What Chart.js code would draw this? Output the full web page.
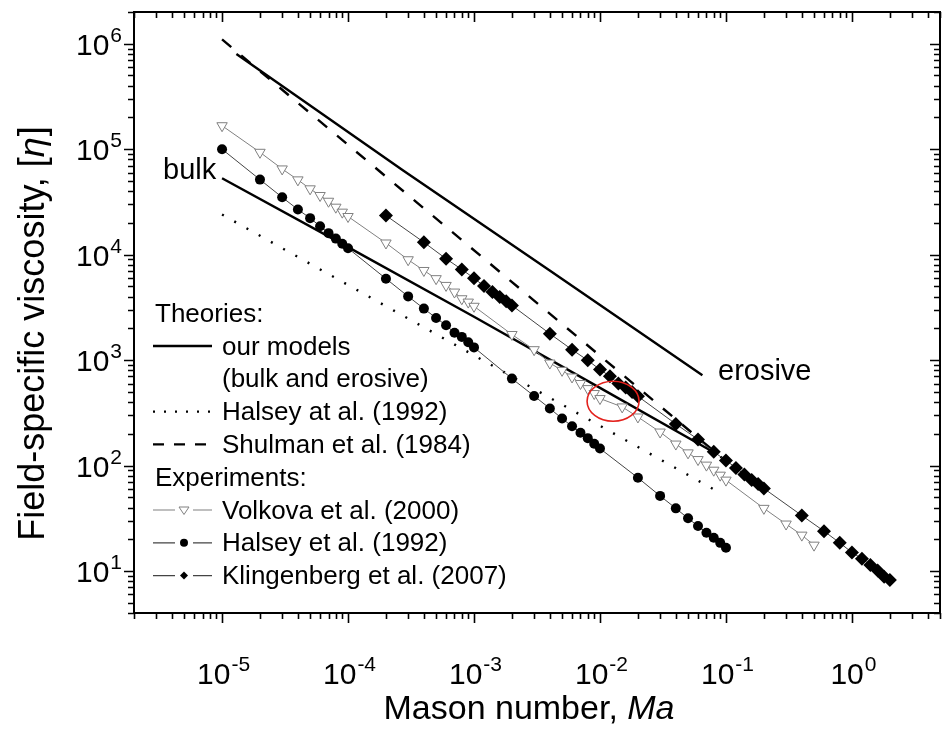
<!DOCTYPE html>
<html>
<head>
<meta charset="utf-8">
<script src="https://cdn.jsdelivr.net/npm/chart.js@4.4.1/dist/chart.umd.min.js"></script>
<style>
  html, body { margin: 0; padding: 0; background: #fff; }
  #wrap { width: 947px; height: 729px; }
</style>
</head>
<body>
<div id="wrap"><canvas id="viscChart" width="947" height="729"></canvas></div>
<script>
// Mason number (x) and field-specific viscosity [eta] (y)

// Volkova et al. (2000)
const volkovaMa = [1e-5, 2e-5, 3e-5, 4e-5, 5e-5, 6e-5, 7e-5, 8e-5, 9e-5,
  1e-4, 2e-4, 3e-4, 4e-4, 5e-4, 6e-4, 7e-4, 8e-4, 9e-4,
  1e-3, 2e-3, 3e-3, 4e-3, 5e-3, 6e-3, 7e-3, 8e-3, 9e-3,
  1e-2, 1.5e-2, 2e-2, 3e-2, 4e-2, 5e-2, 6e-2, 7e-2, 8e-2, 9e-2,
  0.1, 0.2, 0.3, 0.4, 0.5];
const volkovaEta = [167000, 93500, 65000, 51200, 42100, 36400, 32100, 28200, 25300,
  23000, 12900, 8950, 7080, 5920, 5110, 4420, 3820, 3550,
  3240, 1750, 1256, 938, 800, 692, 600, 537, 482,
  432, 360, 289, 208, 160, 132, 114, 101, 90.4, 81.1,
  72.8, 39.3, 27.9, 21.9, 17.6];

// Halsey et al. (1992), experiment
const halseyMa = [1e-5, 2e-5, 3e-5, 4e-5, 5e-5, 6e-5, 7e-5, 8e-5, 9e-5,
  1e-4, 2e-4, 3e-4, 4e-4, 5e-4, 6e-4, 7e-4, 8e-4, 9e-4,
  1e-3, 2e-3, 3e-3, 4e-3, 5e-3, 6e-3, 7e-3, 8e-3, 9e-3,
  1e-2, 2e-2, 3e-2, 4e-2, 5e-2, 6e-2, 7e-2, 8e-2, 9e-2,
  0.1];
const halseyEta = [100000, 51500, 35000, 26800, 22200, 18600, 16000, 14200, 12700,
  11500, 5920, 4020, 3080, 2510, 2140, 1820, 1660, 1480,
  1320, 668, 457, 348, 279, 236, 205, 182, 161,
  145, 76.6, 51.6, 39.3, 31.6, 26.7, 23.1, 20.7, 18.5,
  16.6];

// Klingenberg et al. (2007)
const klingMa = [2e-4, 4e-4, 6e-4, 8e-4, 1e-3, 1.2e-3, 1.4e-3, 1.6e-3, 1.8e-3, 2e-3,
  4e-3, 6e-3, 8e-3, 1e-2, 1.2e-2, 1.4e-2, 1.6e-2, 1.8e-2, 2e-2,
  4e-2, 6e-2, 8e-2, 0.1, 0.12, 0.14, 0.16, 0.18, 0.2,
  0.4, 0.6, 0.8, 1.0, 1.2, 1.4, 1.6, 1.8, 2.0];
const klingEta = [23500, 13100, 9140, 7240, 5980, 5040, 4420, 3960, 3610, 3300,
  1780, 1256, 995, 813, 703, 600, 550, 499, 454,
  248, 177, 135, 112, 95.1, 82.4, 72.8, 66.7, 60.7,
  33.6, 23.9, 18.5, 15.0, 13.1, 11.4, 10.1, 8.83, 8.22];

// theories
const bulkMa = [1e-5, 1e-4, 1e-3, 1e-2, 8e-2];
const bulkEta = [53000, 11800, 2580, 546, 134];
const erosiveMa = [1.3e-5, 2.74e-4, 3.99e-3, 6.5e-2];
const erosiveEta = [800000, 62700, 7080, 718];
const halseyTheoryMa = [1e-5, 9e-2];
const halseyTheoryEta = [24000, 55];
const shulmanMa = [1e-5, 0.1];
const shulmanEta = [1.1e6, 110];

// highlighted spot (red circle)
const markMa = [0.0127];
const markEta = [407];

// axes
const xRange = [2e-6, 5];
const yRange = [4, 2e6];
const xDecades = [-5, -4, -3, -2, -1, 0];
const yDecades = [1, 2, 3, 4, 5, 6];

const FONT = "'Liberation Sans', Arial, sans-serif";

function pts(xs, ys) {
  return xs.map((x, i) => ({ x: x, y: ys[i] }));
}

// "10" with a raised exponent
function drawPower(ctx, exp, x, y, align) {
  ctx.font = '30px ' + FONT;
  const wb = ctx.measureText('10').width;
  ctx.font = '21px ' + FONT;
  const ws = ctx.measureText(exp).width;
  const left = align === 'center' ? x - (wb + ws) / 2 : x - (wb + ws + 1);
  ctx.textAlign = 'left';
  ctx.textBaseline = 'alphabetic';
  ctx.font = '30px ' + FONT;
  ctx.fillText('10', left, y);
  ctx.font = '21px ' + FONT;
  ctx.fillText(exp, left + wb + 1, y - 13);
}

function marker(ctx, type, x, y, r) {
  ctx.beginPath();
  if (type === 'tri') {
    ctx.moveTo(x - r, y - r * 0.6);
    ctx.lineTo(x + r, y - r * 0.6);
    ctx.lineTo(x, y + r * 0.9);
    ctx.closePath();
    ctx.fillStyle = '#fff';
    ctx.fill();
    ctx.strokeStyle = '#808080';
    ctx.lineWidth = 1;
    ctx.stroke();
  } else if (type === 'dot') {
    ctx.arc(x, y, r, 0, Math.PI * 2);
    ctx.fillStyle = '#000';
    ctx.fill();
  } else {
    ctx.moveTo(x, y - r);
    ctx.lineTo(x + r, y);
    ctx.lineTo(x, y + r);
    ctx.lineTo(x - r, y);
    ctx.closePath();
    ctx.fillStyle = '#000';
    ctx.fill();
  }
}

const originAxes = {
  id: 'originAxes',
  afterDatasetsDraw(chart) {
    const ctx = chart.ctx;
    const a = chart.chartArea;
    const xs = chart.scales.x;
    const ys = chart.scales.y;

    ctx.save();
    // red circle
    const cx = xs.getPixelForValue(markMa[0]);
    const cy = ys.getPixelForValue(markEta[0]);
    ctx.beginPath();
    ctx.ellipse(cx, cy, 26, 20, 0, 0, Math.PI * 2);
    ctx.strokeStyle = '#e3211c';
    ctx.lineWidth = 1.6;
    ctx.stroke();

    // frame
    ctx.strokeStyle = '#000';
    ctx.lineWidth = 2;
    ctx.strokeRect(a.left, a.top, a.right - a.left, a.bottom - a.top);

    // ticks: out on bottom/left, in on top/right
    ctx.lineWidth = 1.6;
    ctx.beginPath();
    for (let k = -6; k <= 1; k++) {
      for (let m = 1; m <= 9; m++) {
        const v = m * Math.pow(10, k);
        if (v < xRange[0] || v > xRange[1]) continue;
        const px = Math.round(xs.getPixelForValue(v)) + 0.5;
        const len = m === 1 ? 10 : 6;
        ctx.moveTo(px, a.bottom); ctx.lineTo(px, a.bottom + len);
        ctx.moveTo(px, a.top); ctx.lineTo(px, a.top + len);
      }
    }
    for (let k = 0; k <= 6; k++) {
      for (let m = 1; m <= 9; m++) {
        const v = m * Math.pow(10, k);
        if (v < yRange[0] || v > yRange[1]) continue;
        const py = Math.round(ys.getPixelForValue(v)) + 0.5;
        const len = m === 1 ? 10 : 6;
        ctx.moveTo(a.left, py); ctx.lineTo(a.left - len, py);
        ctx.moveTo(a.right, py); ctx.lineTo(a.right - len, py);
      }
    }
    ctx.stroke();

    // tick labels
    ctx.fillStyle = '#000';
    xDecades.forEach(k => {
      drawPower(ctx, String(k), xs.getPixelForValue(Math.pow(10, k)) + 1, 684, 'center');
    });
    yDecades.forEach(k => {
      drawPower(ctx, String(k), 122, ys.getPixelForValue(Math.pow(10, k)) + 11, 'right');
    });

    // axis titles
    ctx.textBaseline = 'alphabetic';
    const t1 = 'Mason number, ';
    ctx.font = 'italic 34px ' + FONT;
    const wMa = ctx.measureText('Ma').width;
    ctx.font = '34px ' + FONT;
    const w1 = ctx.measureText(t1).width;
    const tx = (a.left + a.right) / 2 - (w1 + wMa) / 2 - 8;
    ctx.textAlign = 'left';
    ctx.fillText(t1, tx, 719);
    ctx.font = 'italic 34px ' + FONT;
    ctx.fillText('Ma', tx + w1, 719);

    ctx.save();
    ctx.translate(44, 334);
    ctx.rotate(-Math.PI / 2);
    const y1 = 'Field-specific viscosity, [';
    ctx.font = '36px ' + FONT;
    const wy1 = ctx.measureText(y1).width;
    const wb2 = ctx.measureText(']').width;
    ctx.font = 'italic 36px ' + FONT;
    const wEta = ctx.measureText('\u03B7').width;
    const ty = -(wy1 + wEta + wb2) / 2;
    ctx.font = '36px ' + FONT;
    ctx.fillText(y1, ty, 0);
    ctx.font = 'italic 36px ' + FONT;
    ctx.fillText('\u03B7', ty + wy1, 0);
    ctx.font = '36px ' + FONT;
    ctx.fillText(']', ty + wy1 + wEta + 1, 0);
    ctx.restore();

    // curve labels
    ctx.font = '29px ' + FONT;
    ctx.fillText('bulk', 163, 179);
    ctx.fillText('erosive', 718, 380);

    // legend
    const rows = [321.7, 354.5, 387.3, 420.1, 452.9, 485.7, 518.5, 551.3, 584.1];
    ctx.font = '26px ' + FONT;
    ctx.fillText('Theories:', 155, rows[0]);
    ctx.fillText('our models', 222, rows[1]);
    ctx.fillText('(bulk and erosive)', 222, rows[2]);
    ctx.fillText('Halsey at al. (1992)', 222, rows[3]);
    ctx.fillText('Shulman et al. (1984)', 222, rows[4]);
    ctx.fillText('Experiments:', 155, rows[5]);
    ctx.fillText('Volkova et al. (2000)', 222, rows[6]);
    ctx.fillText('Halsey et al. (1992)', 222, rows[7]);
    ctx.fillText('Klingenberg et al. (2007)', 222, rows[8]);

    ctx.strokeStyle = '#000';
    ctx.lineWidth = 2.4;
    const seg = (y, dash) => {
      ctx.beginPath();
      ctx.setLineDash(dash);
      ctx.moveTo(153, y); ctx.lineTo(212, y);
      ctx.stroke();
    };
    seg(rows[1] - 8.5, []);
    seg(rows[3] - 8.5, [2, 9]);
    seg(rows[4] - 8.5, [11, 10]);
    ctx.setLineDash([]);

    [['tri', '#808080'], ['dot', '#444'], ['dia', '#444']].forEach((s, i) => {
      const y = rows[6 + i] - 8.5;
      ctx.strokeStyle = s[1];
      ctx.lineWidth = 1.2;
      ctx.beginPath();
      ctx.moveTo(153, y); ctx.lineTo(175, y);
      ctx.moveTo(193, y); ctx.lineTo(212, y);
      ctx.stroke();
      marker(ctx, s[0], 184, y, s[0] === 'tri' ? 5 : 4);
    });
    ctx.restore();
  }
};

const ctx = document.getElementById('viscChart').getContext('2d');

new Chart(ctx, {
  type: 'scatter',
  data: {
    datasets: [
      {
        label: 'Volkova et al. (2000)',
        data: pts(volkovaMa, volkovaEta),
        showLine: true,
        borderColor: '#808080',
        borderWidth: 1,
        pointStyle: 'triangle',
        rotation: 180,
        pointRadius: 6,
        pointBackgroundColor: '#fff',
        pointBorderColor: '#808080',
        pointBorderWidth: 1
      },
      {
        label: 'Halsey et al. (1992)',
        data: pts(halseyMa, halseyEta),
        showLine: true,
        borderColor: '#444',
        borderWidth: 1,
        pointStyle: 'circle',
        pointRadius: 5,
        pointBackgroundColor: '#000',
        pointBorderColor: '#000',
        pointBorderWidth: 0
      },
      {
        label: 'Klingenberg et al. (2007)',
        data: pts(klingMa, klingEta),
        showLine: true,
        borderColor: '#444',
        borderWidth: 1,
        pointStyle: 'rectRot',
        pointRadius: 7,
        pointBackgroundColor: '#000',
        pointBorderColor: '#000',
        pointBorderWidth: 0
      },
      {
        label: 'bulk',
        data: pts(bulkMa, bulkEta),
        showLine: true,
        borderColor: '#000',
        borderWidth: 2.4,
        pointRadius: 0
      },
      {
        label: 'erosive',
        data: pts(erosiveMa, erosiveEta),
        showLine: true,
        borderColor: '#000',
        borderWidth: 2.4,
        pointRadius: 0
      },
      {
        label: 'Halsey at al. (1992)',
        data: pts(halseyTheoryMa, halseyTheoryEta),
        showLine: true,
        borderColor: '#000',
        borderWidth: 2.4,
        borderDash: [2, 12],
        pointRadius: 0
      },
      {
        label: 'Shulman et al. (1984)',
        data: pts(shulmanMa, shulmanEta),
        showLine: true,
        borderColor: '#000',
        borderWidth: 2.4,
        borderDash: [12, 13],
        pointRadius: 0
      }
    ]
  },
  options: {
    responsive: false,
    animation: false,
    devicePixelRatio: 1,
    layout: { padding: { left: 134, top: 12, right: 1, bottom: 116 } },
    plugins: {
      legend: { display: false },
      tooltip: { enabled: false }
    },
    scales: {
      x: { type: 'logarithmic', min: xRange[0], max: xRange[1], display: false },
      y: { type: 'logarithmic', min: yRange[0], max: yRange[1], display: false }
    }
  },
  plugins: [originAxes]
});
</script>
</body>
</html>
